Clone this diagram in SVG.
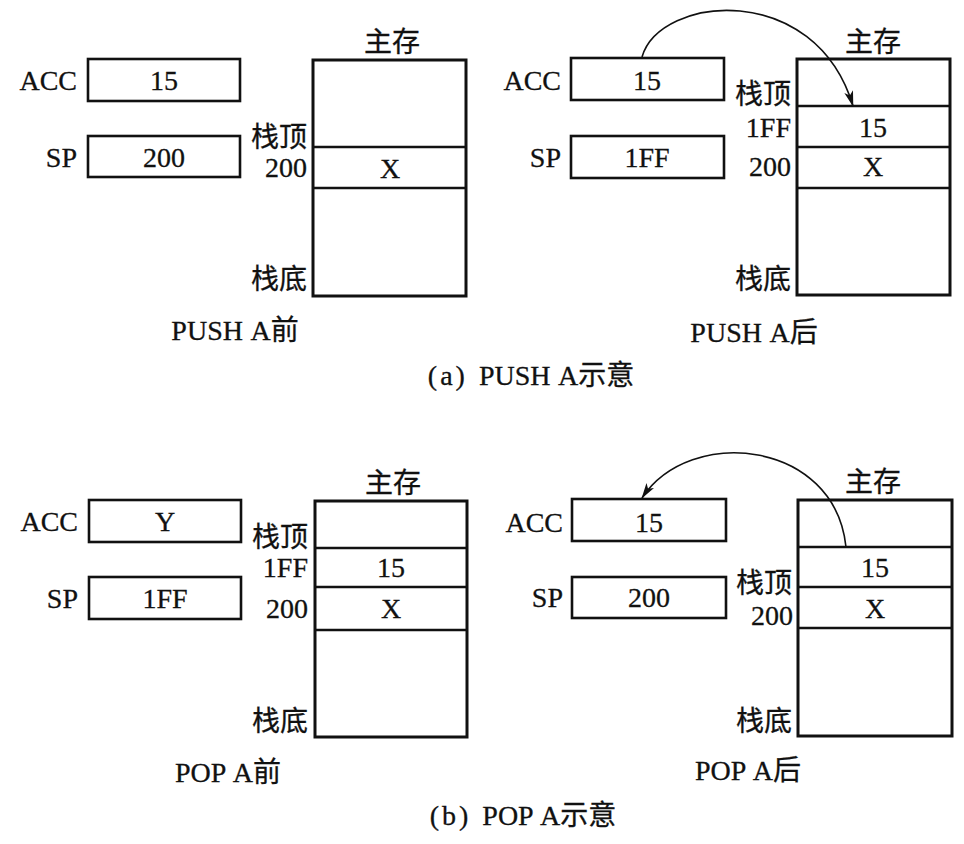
<svg xmlns="http://www.w3.org/2000/svg" width="964" height="844" viewBox="0 0 964 844">
<style>
text{font-family:"Liberation Serif","Noto Sans CJK SC",serif;font-size:28px;fill:#111;stroke:#111;stroke-width:0.3;white-space:pre}
.r{text-anchor:end}
.c{text-anchor:middle}
.box{fill:#fff;stroke:#111;stroke-width:2.6}
.mem{fill:#fff;stroke:#111;stroke-width:3}
.div{stroke:#111;stroke-width:2.4}
.arc{fill:none;stroke:#111;stroke-width:1.6}
</style>
<defs>
<marker id="ah" markerUnits="userSpaceOnUse" markerWidth="18" markerHeight="10" refX="15" refY="4.5" orient="auto">
<path d="M0,0 L16,4.5 L0,9 L4,4.5 z" fill="#111"/>
</marker>
</defs>
<rect width="964" height="844" fill="#fff"/>

<!-- (a) PUSH before -->
<g id="a1-acc"><text class="r" x="77" y="90">ACC</text><rect class="box" x="88" y="59" width="152" height="42"/><text class="c" x="164" y="90">15</text></g>
<g id="a1-sp"><text class="r" x="77" y="167">SP</text><rect class="box" x="88" y="136" width="152" height="41"/><text class="c" x="164" y="167">200</text></g>
<g id="a1-mem">
<text class="c" x="392" y="52">主存</text>
<rect class="mem" x="313" y="60" width="153" height="236"/>
<line class="div" x1="313" y1="147" x2="466" y2="147"/>
<line class="div" x1="313" y1="188" x2="466" y2="188"/>
<text class="c" x="390" y="178">X</text>
<text class="r" x="307" y="147">栈顶</text>
<text class="r" x="307" y="177">200</text>
<text class="r" x="307" y="289">栈底</text>
</g>
<text class="c" x="235" y="340">PUSH <tspan dx="2">A前</tspan></text>

<!-- (a) PUSH after -->
<g id="a2-acc"><text class="r" x="561" y="90">ACC</text><rect class="box" x="571" y="58" width="153" height="42"/><text class="c" x="647" y="90">15</text></g>
<g id="a2-sp"><text class="r" x="561" y="167">SP</text><rect class="box" x="571" y="136" width="153" height="42"/><text class="c" x="647" y="167">1FF</text></g>
<g id="a2-mem">
<text class="c" x="873" y="52">主存</text>
<rect class="mem" x="797" y="59" width="153" height="236"/>
<line class="div" x1="797" y1="106" x2="950" y2="106"/>
<line class="div" x1="797" y1="147" x2="950" y2="147"/>
<line class="div" x1="797" y1="188" x2="950" y2="188"/>
<text class="c" x="873" y="137">15</text>
<text class="c" x="873" y="176">X</text>
<text class="r" x="791" y="104">栈顶</text>
<text class="r" x="791" y="137">1FF</text>
<text class="r" x="791" y="176">200</text>
<text class="r" x="791" y="289">栈底</text>
</g>
<text class="c" x="754" y="342">PUSH <tspan dx="2">A后</tspan></text>
<text class="c" x="531" y="385">(<tspan dx="3">a</tspan><tspan dx="3">)</tspan>  PUSH <tspan dx="2">A示意</tspan></text>

<!-- (b) POP before -->
<g id="b1-acc"><text class="r" x="78" y="531">ACC</text><rect class="box" x="89" y="500" width="152" height="42"/><text class="c" x="165" y="531">Y</text></g>
<g id="b1-sp"><text class="r" x="78" y="608">SP</text><rect class="box" x="89" y="577" width="152" height="42"/><text class="c" x="165" y="608">1FF</text></g>
<g id="b1-mem">
<text class="c" x="393" y="493">主存</text>
<rect class="mem" x="315" y="501" width="152" height="236"/>
<line class="div" x1="315" y1="548" x2="467" y2="548"/>
<line class="div" x1="315" y1="587" x2="467" y2="587"/>
<line class="div" x1="315" y1="630" x2="467" y2="630"/>
<text class="c" x="391" y="577">15</text>
<text class="c" x="391" y="618">X</text>
<text class="r" x="308" y="547">栈顶</text>
<text class="r" x="308" y="577">1FF</text>
<text class="r" x="308" y="618">200</text>
<text class="r" x="308" y="731">栈底</text>
</g>
<text class="c" x="228" y="782">POP <tspan dx="2">A前</tspan></text>

<!-- (b) POP after -->
<g id="b2-acc"><text class="r" x="563" y="532">ACC</text><rect class="box" x="572" y="499" width="154" height="42"/><text class="c" x="649" y="532">15</text></g>
<g id="b2-sp"><text class="r" x="563" y="607">SP</text><rect class="box" x="572" y="577" width="154" height="41"/><text class="c" x="649" y="607">200</text></g>
<g id="b2-mem">
<text class="c" x="873" y="492">主存</text>
<rect class="mem" x="798" y="500" width="154" height="236"/>
<line class="div" x1="798" y1="547" x2="952" y2="547"/>
<line class="div" x1="798" y1="587" x2="952" y2="587"/>
<line class="div" x1="798" y1="628" x2="952" y2="628"/>
<text class="c" x="875" y="577">15</text>
<text class="c" x="875" y="618">X</text>
<text class="r" x="792" y="593">栈顶</text>
<text class="r" x="793" y="625">200</text>
<text class="r" x="792" y="731">栈底</text>
</g>
<text class="c" x="748" y="780">POP <tspan dx="2">A后</tspan></text>
<text class="c" x="523" y="825">(<tspan dx="3">b</tspan><tspan dx="3">)</tspan>  POP <tspan dx="2">A示意</tspan></text>

<g id="connectors">
<path class="arc" d="M642,57 C660,-5 815,-20 853,106" marker-end="url(#ah)"/>
<path class="arc" d="M846,547 C835,440 690,425 642,498" marker-end="url(#ah)"/>
</g>
</svg>
